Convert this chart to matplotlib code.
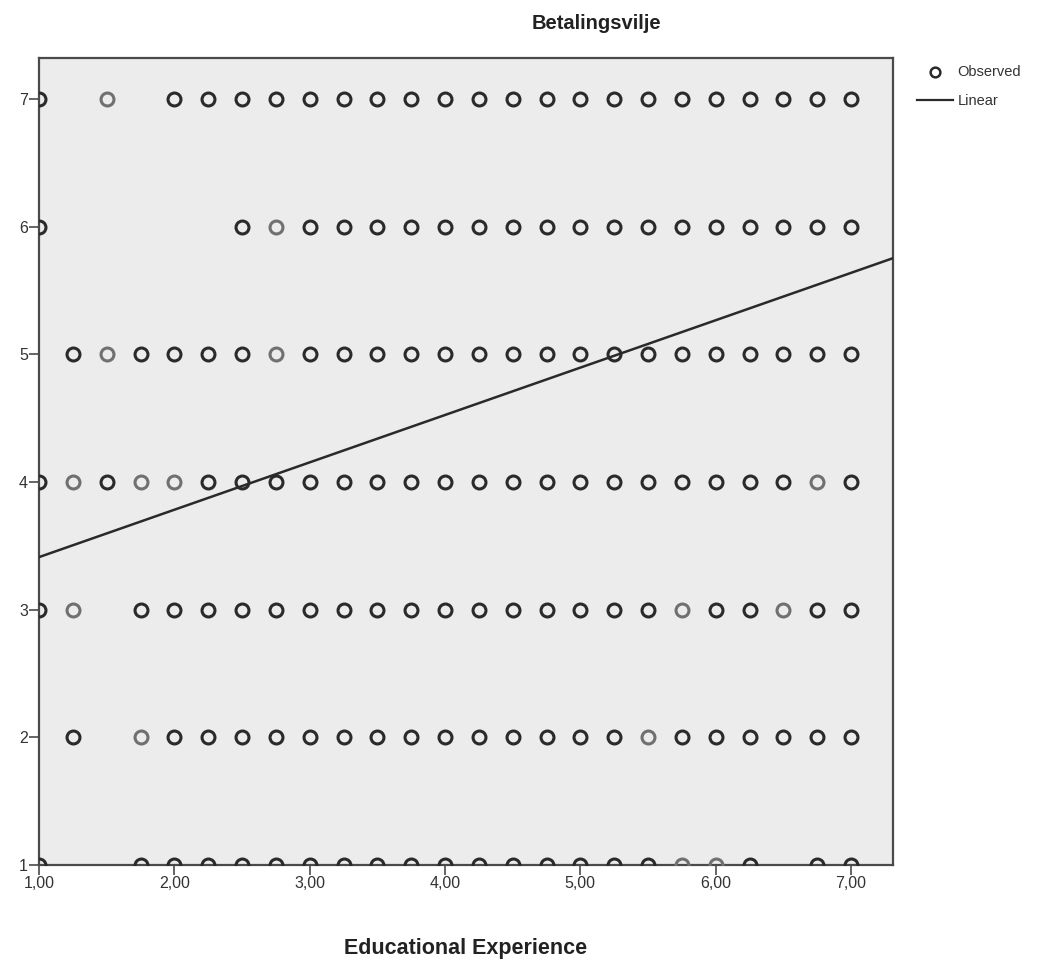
import matplotlib
matplotlib.use("Agg")
import matplotlib.pyplot as plt
from matplotlib.lines import Line2D

# ---- data ----------------------------------------------------------------
ROW_7 = [1.00, 1.50, 2.00, 2.25, 2.50, 2.75, 3.00, 3.25, 3.50, 3.75, 4.00, 4.25,
         4.50, 4.75, 5.00, 5.25, 5.50, 5.75, 6.00, 6.25, 6.50, 6.75, 7.00]
ROW_6 = [1.00, 2.50, 2.75, 3.00, 3.25, 3.50, 3.75, 4.00, 4.25, 4.50, 4.75, 5.00,
         5.25, 5.50, 5.75, 6.00, 6.25, 6.50, 6.75, 7.00]
ROW_5 = [1.25, 1.50, 1.75, 2.00, 2.25, 2.50, 2.75, 3.00, 3.25, 3.50, 3.75, 4.00,
         4.25, 4.50, 4.75, 5.00, 5.25, 5.50, 5.75, 6.00, 6.25, 6.50, 6.75, 7.00]
ROW_4 = [1.00, 1.25, 1.50, 1.75, 2.00, 2.25, 2.50, 2.75, 3.00, 3.25, 3.50, 3.75,
         4.00, 4.25, 4.50, 4.75, 5.00, 5.25, 5.50, 5.75, 6.00, 6.25, 6.50, 6.75, 7.00]
ROW_3 = [1.00, 1.25, 1.75, 2.00, 2.25, 2.50, 2.75, 3.00, 3.25, 3.50, 3.75, 4.00,
         4.25, 4.50, 4.75, 5.00, 5.25, 5.50, 5.75, 6.00, 6.25, 6.50, 6.75, 7.00]
ROW_2 = [1.25, 1.75, 2.00, 2.25, 2.50, 2.75, 3.00, 3.25, 3.50, 3.75, 4.00, 4.25,
         4.50, 4.75, 5.00, 5.25, 5.50, 5.75, 6.00, 6.25, 6.50, 6.75, 7.00]
ROW_1 = [1.00, 1.75, 2.00, 2.25, 2.50, 2.75, 3.00, 3.25, 3.50, 3.75, 4.00, 4.25,
         4.50, 4.75, 5.00, 5.25, 5.50, 5.75, 6.00, 6.25, 6.75, 7.00]
ROWS = {7: ROW_7, 6: ROW_6, 5: ROW_5, 4: ROW_4, 3: ROW_3, 2: ROW_2, 1: ROW_1}

# fainter rings (fewer overlapping cases)
LIGHT = {7: [1.50], 6: [2.75], 5: [1.50, 2.75], 4: [1.25, 1.75, 2.00, 6.75],
         3: [1.25, 5.75, 6.50], 2: [1.75, 5.50], 1: [5.75, 6.00]}

# linear fit
INTERCEPT = 3.04
SLOPE = 0.371

X_TICKS = [1, 2, 3, 4, 5, 6, 7]
X_TICKLABELS = ["1,00", "2,00", "3,00", "4,00", "5,00", "6,00", "7,00"]
Y_TICKS = [1, 2, 3, 4, 5, 6, 7]

# ---- style ---------------------------------------------------------------
FONT = ["Liberation Sans", "DejaVu Sans"]
DARK = "#2a2a2a"
LIGHTC = "#707070"
PANEL = "#ececec"
FRAMEC = "#4a4a4a"

plt.rcParams["font.family"] = FONT

fig = plt.figure(figsize=(10.58, 9.63), dpi=100)
ax = fig.add_axes([0.0369, 0.1018, 0.8071, 0.8380])
ax.set_facecolor(PANEL)

for yv, xs in ROWS.items():
    for xv in xs:
        col = LIGHTC if xv in LIGHT.get(yv, []) else DARK
        ax.plot(xv, yv, "o", mfc="none", mec=col, ms=9.3, mew=2.2, zorder=3)

ax.axline((0, INTERCEPT), slope=SLOPE, color="#2a2a2a", lw=1.8, zorder=4)

ax.set_xlim(1.0, 7.31)
ax.set_ylim(1.0, 7.32)
ax.set_xticks(X_TICKS)
ax.set_xticklabels(X_TICKLABELS)
ax.set_yticks(Y_TICKS)
ax.tick_params(direction="out", length=7, width=1.2, color=FRAMEC,
               labelsize=11.5, labelcolor="#333333", pad=1)
for sp in ax.spines.values():
    sp.set_color(FRAMEC)
    sp.set_linewidth(1.6)

ax.set_xlabel("Educational Experience", fontsize=15.5, fontweight="bold",
              color="#222222", labelpad=34)
fig.text(0.564, 0.976, "Betalingsvilje", ha="center", va="center",
         fontsize=14.5, fontweight="bold", color="#222222")

# legend, drawn by hand in figure coords like SPSS does
fig.add_artist(Line2D([0.884], [0.925], marker="o", mfc="none", mec=DARK,
                      ms=7, mew=1.8, linestyle="none",
                      transform=fig.transFigure))
fig.text(0.905, 0.925, "Observed", ha="left", va="center", fontsize=10.5,
         color="#333333")
fig.add_artist(Line2D([0.867, 0.901], [0.896, 0.896], color="#2a2a2a", lw=1.6,
                      transform=fig.transFigure))
fig.text(0.905, 0.895, "Linear", ha="left", va="center", fontsize=10.5,
         color="#333333")

fig.savefig("out.png", dpi=100, facecolor="white")
